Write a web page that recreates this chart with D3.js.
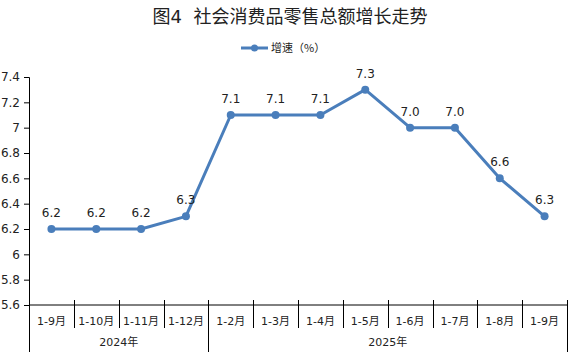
<!DOCTYPE html>
<html><head><meta charset="utf-8">
<script src="https://cdn.jsdelivr.net/npm/d3@7"></script>
<style>body{margin:0;background:#fff}text{font-family:"DejaVu Sans","Noto Sans CJK SC",sans-serif}</style>
</head><body>
<svg id="c" width="581" height="358"></svg>
<script>
const categories = ["1-9月","1-10月","1-11月","1-12月","1-2月","1-3月","1-4月","1-5月","1-6月","1-7月","1-8月","1-9月"];
const values = [6.2,6.2,6.2,6.3,7.1,7.1,7.1,7.3,7.0,7.0,6.6,6.3];
const valueLabels = ["6.2","6.2","6.2","6.3","7.1","7.1","7.1","7.3","7.0","7.0","6.6","6.3"];
const years = ["2024年","2025年"];
const yearSpans = [4, 8];
const yTicks = [5.6,5.8,6,6.2,6.4,6.6,6.8,7,7.2,7.4];
const title = "图4  社会消费品零售总额增长走势";
const seriesName = "增速（%）";

const svg = d3.select("#c");
const L = 29, R = 567, T = 77, B = 305;
const color = "#4a7ebb";
const x = d3.scaleBand().domain(d3.range(categories.length)).range([L, R]);
const y = d3.scaleLinear().domain([5.6, 7.4]).range([B, T]);

svg.append("text").attr("x", 290).attr("y", 23).attr("text-anchor", "middle")
  .style("white-space", "pre").attr("font-size", 18).attr("fill", "#222").text(title);

// legend
const lg = svg.append("g");
lg.append("line").attr("x1", 241).attr("x2", 268).attr("y1", 48).attr("y2", 48).attr("stroke", color).attr("stroke-width", 3);
lg.append("circle").attr("cx", 254.5).attr("cy", 48).attr("r", 3.5).attr("fill", color);
lg.append("text").attr("x", 271).attr("y", 52).attr("font-size", 11).attr("fill", "#222")
  .style("font-family", "'Noto Sans CJK SC',sans-serif").text(seriesName);

// y axis
const ya = svg.append("g").attr("transform", `translate(${L},0)`)
  .call(d3.axisLeft(y).tickValues(yTicks).tickSize(5).tickPadding(4).tickFormat(d => String(d)));
ya.selectAll("text").attr("font-size", 12).attr("fill", "#222").style("font-family", "DejaVu Sans");
ya.selectAll("line,path").attr("stroke", "#000");

// x axis baseline
svg.append("line").attr("x1", L).attr("x2", R).attr("y1", B).attr("y2", B).attr("stroke", "#000");
// category separators
const bw = x.bandwidth();
d3.range(categories.length + 1).forEach(i => {
  const xx = Math.round(L + i * bw) + 0.5;
  svg.append("line").attr("x1", xx).attr("x2", xx).attr("y1", B - 5).attr("y2", 328).attr("stroke", "#000");
});
// year separators
let acc = 0;
const bounds = [0];
yearSpans.forEach(s => { acc += s; bounds.push(acc); });
bounds.forEach(b => {
  const xx = Math.round(L + b * bw) + 0.5;
  svg.append("line").attr("x1", xx).attr("x2", xx).attr("y1", 328).attr("y2", 352).attr("stroke", "#000");
});
years.forEach((yr, i) => {
  const cx = L + (bounds[i] + bounds[i + 1]) / 2 * bw;
  svg.append("text").attr("x", cx).attr("y", 346).attr("text-anchor", "middle").attr("font-size", 11).attr("fill", "#222").text(yr);
});
categories.forEach((c, i) => {
  svg.append("text").attr("x", x(i) + bw / 2).attr("y", 325).attr("text-anchor", "middle").attr("font-size", 11).attr("fill", "#222").text(c);
});

// line
const line = d3.line().x((d, i) => x(i) + bw / 2).y(d => y(d));
svg.append("path").datum(values).attr("d", line).attr("fill", "none").attr("stroke", color).attr("stroke-width", 3).attr("stroke-linejoin", "round");
svg.selectAll(".pt").data(values).enter().append("circle")
  .attr("cx", (d, i) => x(i) + bw / 2).attr("cy", d => y(d)).attr("r", 4).attr("fill", color);
svg.selectAll(".lb").data(values).enter().append("text")
  .attr("x", (d, i) => x(i) + bw / 2).attr("y", d => y(d) - 12).attr("text-anchor", "middle")
  .attr("font-size", 12).attr("fill", "#222").text((d, i) => valueLabels[i]);
</script>
</body></html>
